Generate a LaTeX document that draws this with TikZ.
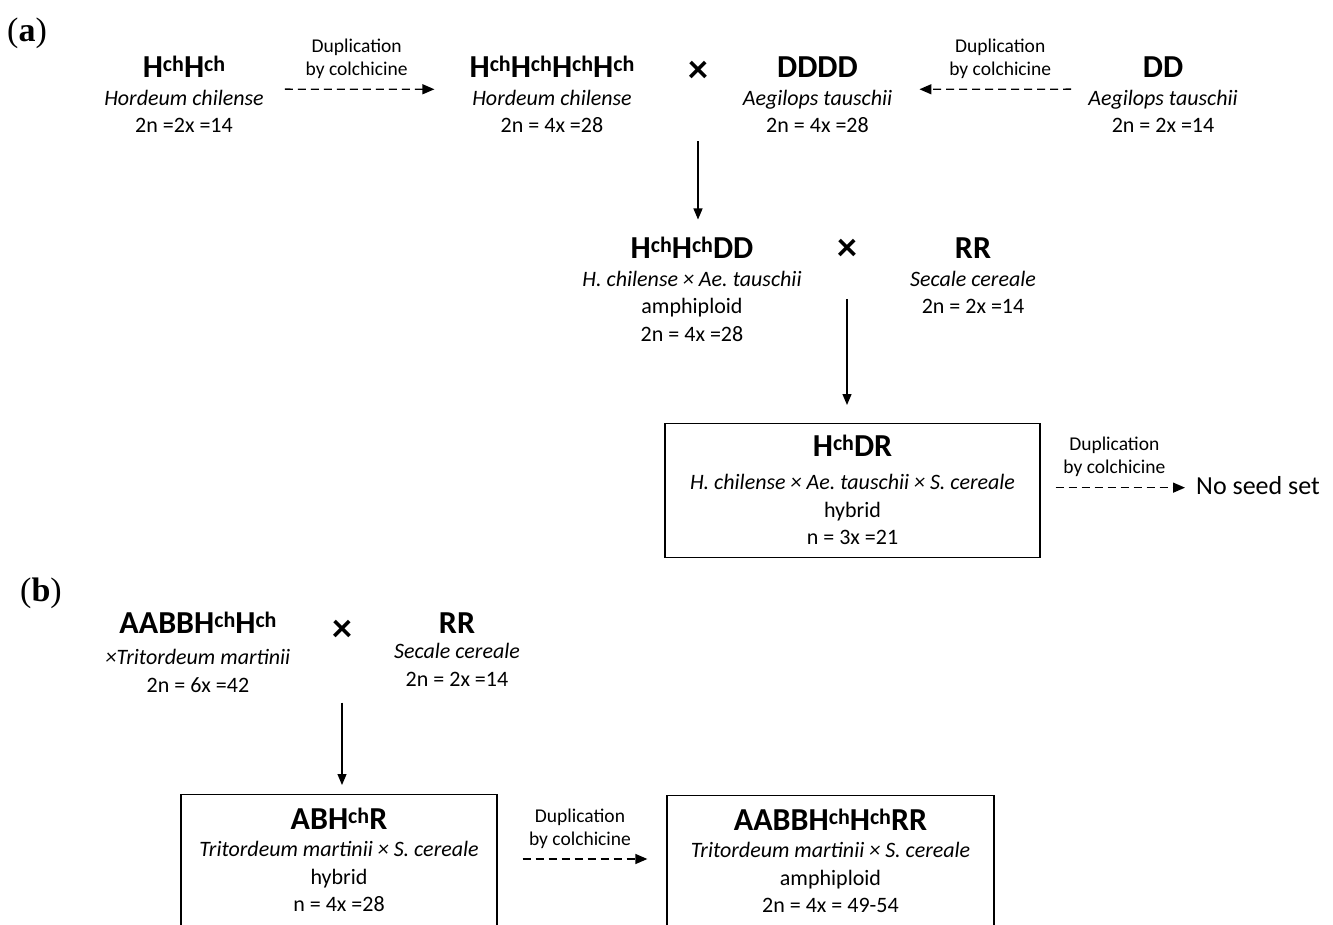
\documentclass[tikz,border=0pt]{standalone}
\usepackage{fontspec}
\setmainfont{Carlito}
\newfontfamily\lblserif{Liberation Serif}
\usetikzlibrary{arrows.meta,positioning}
\frenchspacing
\newcommand\bodyfont{\fontsize{22}{27.5}\selectfont}
\newcommand\smallfont{\fontsize{19.5}{23}\selectfont}
\newcommand\hdr[1]{{\fontsize{32}{38}\selectfont\bfseries\rule{0pt}{24pt}#1}}
\newcommand\Hch{H\raisebox{6pt}{\fontsize{22}{22}\selectfont ch}}
\tikzset{
  org/.style     = { align=center, inner sep=0pt, anchor=north, font=\bodyfont },
  box/.style     = { draw, line width=1.3pt, inner sep=0pt, anchor=north },
  cross/.style   = { inner sep=0pt, font=\fontsize{40}{40}\selectfont\bfseries },
  dup/.style     = { dashed, dash pattern=on 8pt off 5pt, line width=1.4pt,
                     -{Triangle[length=12pt,width=10pt]} },
  arr/.style     = { line width=1.2pt, -{Triangle[length=11pt,width=9pt]} },
  dlabel/.style  = { font=\smallfont, align=center, inner sep=0pt, above=10pt },
  panel/.style   = { anchor=west, inner sep=0pt, font=\fontsize{34}{34}\lblserif }
}
\begin{document}
\begin{tikzpicture}[x=1pt,y=-1pt]
\useasboundingbox (0,0) rectangle (1333,925);

\node[panel] (lbla) at (7,33) {(\textbf{a})};
\node[org] (hh2) at (184,53.5) {\hdr{\Hch\Hch}\\{\itshape Hordeum chilense}\\2n =2x =14};
\node[org] (hh4) at (552,53.5) {\hdr{\Hch\Hch\Hch\Hch}\\{\itshape Hordeum chilense}\\2n = 4x =28};
\node[cross] (x1) at (698,72) {×};
\node[org] (dddd) at (817.5,53.5) {\hdr{DDDD}\\{\itshape Aegilops tauschii}\\2n = 4x =28};
\node[org] (dd) at (1163,53.5) {\hdr{DD}\\{\itshape Aegilops tauschii}\\2n = 2x =14};
\draw[dup] ([xshift=21pt,yshift=4pt]hh2.east) -- ([xshift=-35pt,yshift=4pt]hh4.west)
  node[dlabel, midway, xshift=-3pt] {Duplication\\by colchicine};
\draw[dup] ([xshift=-17pt,yshift=4pt]dd.west) -- ([xshift=27pt,yshift=4pt]dddd.east)
  node[dlabel, midway, xshift=5pt] {Duplication\\by colchicine};

\node[org] (hhdd) at (692,234.5) {\hdr{\Hch\Hch DD}\\{\itshape H. chilense × Ae. tauschii}\\amphiploid\\2n = 4x =28};
\node[cross] (x2) at (847,250) {×};
\node[org] (rr1) at (973,234.5) {\hdr{RR}\\{\itshape Secale cereale}\\2n = 2x =14};
\draw[arr] ([yshift=-8pt]x1 |- hh4.south) -- ([yshift=15pt]x1 |- hhdd.north);

\node[box, minimum width=375pt, minimum height=134pt] (hdr) at (852.5,423) {};
\node[org] (hdr txt) at ([yshift=-9pt]hdr.north) {\hdr{\Hch DR}\\[6pt]{\itshape H. chilense × Ae. tauschii × S. cereale}\\hybrid\\n = 3x =21};
\draw[arr] ([yshift=-38pt]x2.south) -- ([yshift=18pt]x2 |- hdr.north);
\node[anchor=base west, inner sep=0pt, font=\fontsize{26}{30}\selectfont] (noseed) at (1196,494) {No seed set};
\draw[dup] ([xshift=15pt,yshift=3pt]hdr.east) -- ([xshift=-11pt,yshift=3pt]hdr.east -| noseed.west)
  node[dlabel, midway, xshift=-6pt] {Duplication\\by colchicine};

\node[panel] (lblb) at (20,593) {(\textbf{b})};
\node[org] (tm) at (198,609) {\hdr{AABB\Hch\Hch}\\[4pt]{\itshape ×Tritordeum martinii}\\2n = 6x =42};
\node[cross] (x3) at (342,631) {×};
\node[org] (rr2) at (457,609) {\hdr{RR}\\[-2pt]{\itshape Secale cereale}\\2n = 2x =14};

\node[box, minimum width=316pt, minimum height=180pt] (abhr) at (339,794) {};
\node[org] (abhr txt) at ([yshift=-11pt]abhr.north) {\hdr{AB\Hch R}\\{\itshape Tritordeum martinii × S. cereale}\\hybrid\\n = 4x =28};
\draw[arr] ([yshift=-10pt]x3 |- tm.south) -- ([yshift=9pt]x3 |- abhr.north);

\node[box, minimum width=327pt, minimum height=180pt] (aar) at (830.5,795) {};
\node[org] (aar txt) at ([yshift=-11pt]aar.north) {\hdr{AABB\Hch\Hch RR}\\{\itshape Tritordeum martinii × S. cereale}\\amphiploid\\2n = 4x = 49-54};
\draw[dup] ([xshift=25pt,yshift=-65pt]abhr.north east) coordinate (d3) -- ([xshift=-19pt]d3 -| aar.west)
  node[dlabel, midway, xshift=-5pt] {Duplication\\by colchicine};
\end{tikzpicture}
\end{document}
